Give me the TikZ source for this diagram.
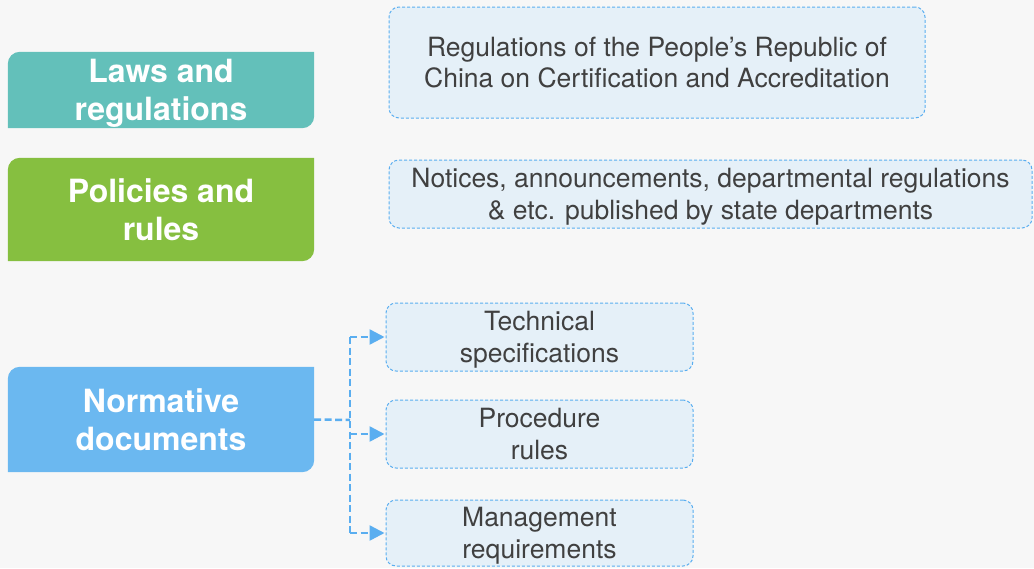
\documentclass[tikz,border=0pt]{standalone}
\usepackage{fontspec}
\setmainfont{TeX Gyre Heros}
\usepackage{tikz}
\usetikzlibrary{arrows.meta,backgrounds}

\definecolor{pagegray}{HTML}{F7F7F7}
\definecolor{lawteal}{HTML}{63C0BA}
\definecolor{policygreen}{HTML}{86BF40}
\definecolor{normblue}{HTML}{6BB8F0}
\definecolor{boxfill}{HTML}{E5F0F8}
\definecolor{boxline}{HTML}{5AAEF0}
\definecolor{textgray}{HTML}{404040}

\tikzset{
  catbox/.style={minimum width=306pt, inner sep=0pt, text=white, text depth=-3pt,
    font=\fontsize{32}{38}\selectfont\bfseries, align=center},
  itembox/.style={draw=boxline, fill=boxfill, rounded corners=10pt,
    line width=1pt, dash pattern=on 3pt off 2pt, inner sep=0pt, text depth=-3pt,
    text=textgray, font=\fontsize{26.5}{31.5}\selectfont, align=center},
  link/.style={draw=boxline, line width=2.5pt, dash pattern=on 7pt off 3.5pt},
  linkarrow/.style={link, -{Triangle[length=15pt,width=15pt]}, shorten >=1pt}
}

\begin{document}
\begin{tikzpicture}[x=1pt, y=-1pt]
  \useasboundingbox (0,0) rectangle (1034,568);

  % left categories
  \node[catbox, minimum height=76pt] (laws) at (161,90) {Laws and\\regulations};
  \node[catbox, minimum height=103pt] (policies) at (161,209.5) {Policies and\\rules};
  \node[catbox, minimum height=105pt] (normdoc) at (161,419.5) {Normative\\documents};

  % right boxes
  \node[itembox, minimum width=536pt, minimum height=111pt] (cca) at (657,62.5)
    {Regulations of the People’s Republic of\\China on Certification and Accreditation};
  \node[itembox, minimum width=643pt, minimum height=68pt] (notices) at (710.5,194)
    {Notices, announcements, departmental regulations\\\& etc. published by state departments};
  \node[itembox, minimum width=307pt, minimum height=68pt] (tech) at (539.5,337) {Technical\\specifications};
  \node[itembox, minimum width=307pt, minimum height=68pt] (proc) at (539.5,434) {Procedure\\rules};
  \node[itembox, minimum width=307pt, minimum height=66pt] (mgmt) at (539.5,533) {Management\\requirements};

  % fills with two rounded corners
  \begin{scope}[on background layer]
    \fill[pagegray] (0,0) rectangle (1034,568);
    \foreach \n/\c in {laws/lawteal, policies/policygreen, normdoc/normblue}
      \fill[\c] (\n.south west) -- ([yshift=-12pt]\n.north west)
        arc[start angle=180, end angle=90, radius=12pt]
        -- (\n.north east) -- ([yshift=12pt]\n.south east)
        arc[start angle=0, end angle=-90, radius=12pt] -- cycle;
  \end{scope}

  % connectors
  \coordinate (split) at (350,420);
  \draw[link] (normdoc.east) -- (split);
  \draw[link] (split |- tech.west) -- (split |- mgmt.west);
  \foreach \n in {tech, proc, mgmt}
    \draw[linkarrow] (split |- \n.west) -- (\n.west);
\end{tikzpicture}
\end{document}
